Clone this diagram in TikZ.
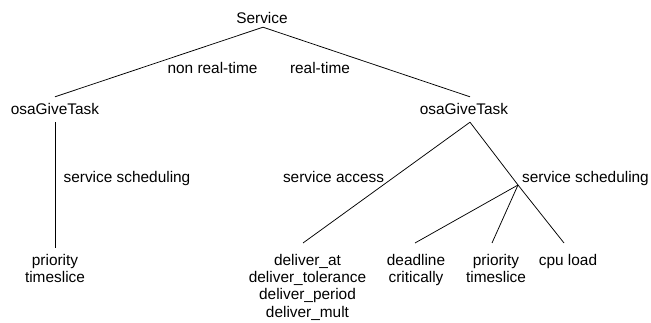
\documentclass[tikz,border=0pt]{standalone}
\usepackage{fontspec}
\setmainfont{Liberation Sans}
\begin{document}
\begin{tikzpicture}[x=1pt,y=-1pt,
  every node/.style={font=\fontsize{15.4}{17.3}\selectfont, inner xsep=0pt},
  txt/.style={anchor=base, inner ysep=0pt},
  head/.style={anchor=base, text height=11pt, text depth=0pt, inner ysep=7pt},
  leaf/.style={anchor=north, align=center, inner ysep=11pt},
  edge/.style={line width=0.75pt}]
\useasboundingbox (0,0) rectangle (651,323);
\node[head, inner ysep=3pt] (svc) at (262,24) {Service};
\node[head] (lt) at (55,115) {osaGiveTask};
\node[head] (rt) at (464,115) {osaGiveTask};
\node[txt] (nrt) at (212.5,74) {non real-time};
\node[txt] (rtl) at (320,74) {real-time};
\node[txt] (lss) at (127,183) {service scheduling};
\node[txt] (sa) at (333.5,183) {service access};
\node[txt] (rss) at (585.5,183) {service scheduling};
\coordinate (ss) at (518,185);
\node[leaf, inner ysep=6pt] (lp) at (55,248) {priority\\timeslice};
\node[leaf] (del) at (307.5,243) {deliver\_at\\deliver\_tolerance\\deliver\_period\\deliver\_mult};
\node[leaf] (dl) at (416,243) {deadline\\critically};
\node[leaf] (pr) at (496,243) {priority\\timeslice};
\node[leaf] (cpu) at (568,243) {cpu load};
\draw[edge] ([xshift=1pt]svc.south) -- (lt.north);
\draw[edge] ([xshift=1pt]svc.south) -- ([xshift=6pt]rt.north);
\draw[edge] (lt.south) -- (lp.north);
\draw[edge] ([xshift=6pt]rt.south) -- ([xshift=-4.5pt]del.north);
\draw[edge] ([xshift=6pt]rt.south) -- (ss) -- ([xshift=-4pt]cpu.north);
\draw[edge] (ss) -- ([xshift=-1pt]dl.north);
\draw[edge] (ss) -- ([xshift=-4pt]pr.north);
\end{tikzpicture}
\end{document}
